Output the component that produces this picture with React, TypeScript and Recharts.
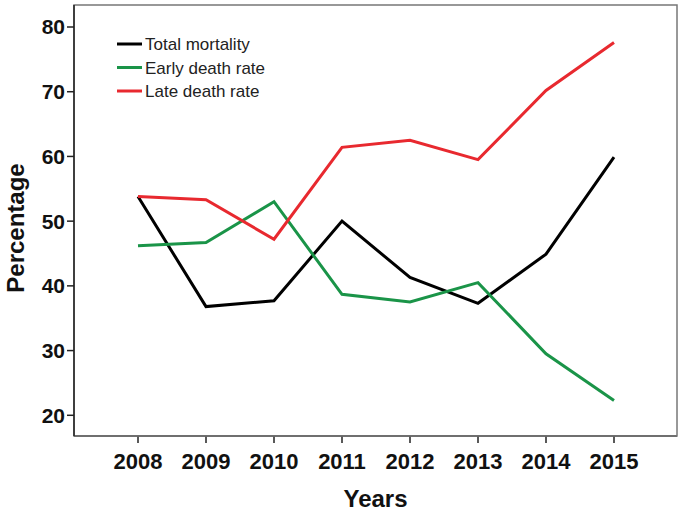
import React from 'react';
import { LineChart, Line, XAxis, YAxis, Label } from 'recharts';

const years = ['2008', '2009', '2010', '2011', '2012', '2013', '2014', '2015'];
const totalMortality = [53.8, 36.8, 37.7, 50.0, 41.3, 37.3, 44.9, 59.9];
const earlyDeathRate = [46.2, 46.7, 53.0, 38.7, 37.5, 40.5, 29.5, 22.3];
const lateDeathRate = [53.8, 53.3, 47.2, 61.4, 62.5, 59.5, 70.2, 77.6];
const yTicks = [20, 30, 40, 50, 60, 70, 80];

const seriesNames = ['Total mortality', 'Early death rate', 'Late death rate'];
const seriesColors = ['#000000', '#1a9448', '#e8292f'];
const seriesKeys = ['total', 'early', 'late'];

const data = years.map((y, i) => ({
  year: y,
  total: totalMortality[i],
  early: earlyDeathRate[i],
  late: lateDeathRate[i],
}));

const FONT = '"Liberation Sans", Arial, sans-serif';

const PLOT = { left: 74, top: 5, right: 677, bottom: 436 };

const Decorations = () => (
  <g>
    <rect x={PLOT.left} y={PLOT.top} width={PLOT.right - PLOT.left} height={PLOT.bottom - PLOT.top} fill="none" stroke="#777" strokeWidth={1.5} />
    <g transform="translate(117, 35)">
      {seriesNames.map((n, i) => (
        <g key={n}>
          <line x1={0} x2={25} y1={9 + i * 23.5} y2={9 + i * 23.5} stroke={seriesColors[i]} strokeWidth={3} />
          <text x={28} y={15 + i * 23.5} fontFamily={FONT} fontSize={17} fill="#222">{n}</text>
        </g>
      ))}
    </g>
  </g>
);

export default function App() {
  return (
    <div style={{ position: 'absolute', left: 0, top: 0, background: '#fff' }}>
      <LineChart width={685} height={514} data={data} margin={{ top: 5, right: 8, left: 0, bottom: 0 }}>
        <XAxis
          dataKey="year"
          height={78}
          padding={{ left: 64, right: 63 }}
          tickSize={7}
          tickMargin={10}
          axisLine={{ stroke: '#222', strokeWidth: 1.5 }}
          tickLine={{ stroke: '#222', strokeWidth: 1.5 }}
          tick={{ fontFamily: FONT, fontSize: 22, fontWeight: 'bold', fill: '#111' }}
          interval={0}
        >
          <Label
            content={(props: any) => {
              const vb = props.viewBox;
              return (
                <g>
                  <Decorations />
                  <text x={vb.x + vb.width / 2} y={507} textAnchor="middle" fontFamily={FONT} fontSize={24} fontWeight="bold" fill="#111">
                    Years
                  </text>
                </g>
              );
            }}
          />
        </XAxis>
        <YAxis
          domain={[16.8, 83.4]}
          ticks={yTicks}
          width={74}
          tickSize={7}
          tickMargin={2}
          axisLine={{ stroke: '#222', strokeWidth: 1.5 }}
          tickLine={{ stroke: '#222', strokeWidth: 1.5 }}
          tick={{ fontFamily: FONT, fontSize: 21, fontWeight: 'bold', fill: '#111' }}
        >
          <Label
            content={() => (
              <text x={24} y={228} transform="rotate(-90 24 228)" textAnchor="middle" fontFamily={FONT} fontSize={24} fontWeight="bold" fill="#111">
                Percentage
              </text>
            )}
          />
        </YAxis>
        {seriesKeys.map((k, i) => (
          <Line key={k} type="linear" dataKey={k} name={seriesNames[i]} stroke={seriesColors[i]} strokeWidth={3} dot={false} isAnimationActive={false} />
        ))}
      </LineChart>
    </div>
  );
}
